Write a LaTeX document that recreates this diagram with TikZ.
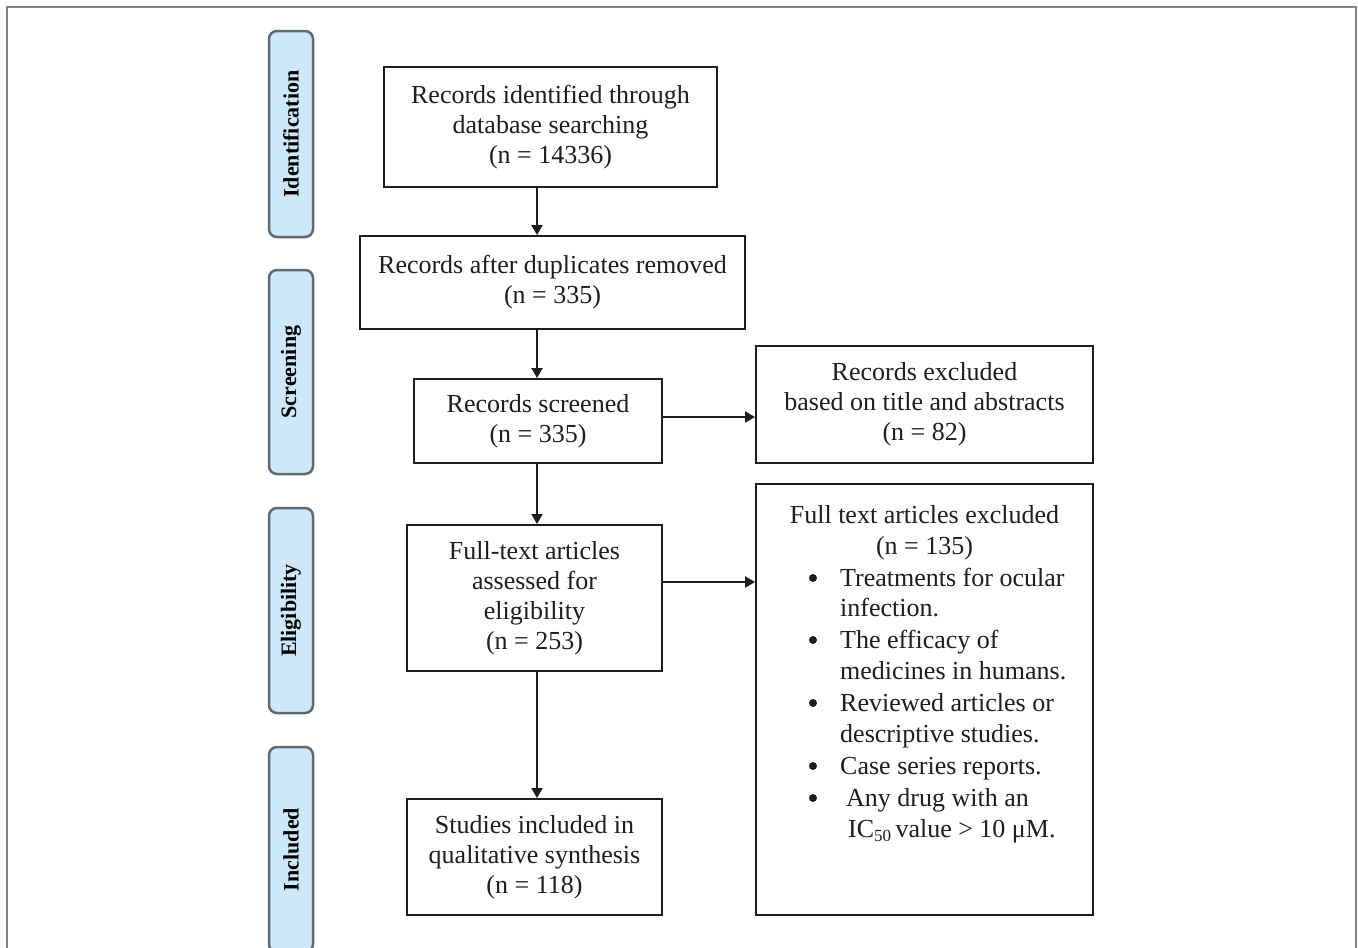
\documentclass[tikz,border=0pt]{standalone}
\usepackage{fontspec}
\setmainfont{Liberation Serif}
\usetikzlibrary{arrows.meta}
\definecolor{txt}{RGB}{30,30,30}
\definecolor{labfill}{RGB}{205,232,250}
\definecolor{labdraw}{RGB}{95,105,115}
\definecolor{framecol}{RGB}{130,130,130}
\begin{document}
\begin{tikzpicture}[x=1pt,y=-1pt,
  box/.style={draw=txt, line width=1.9pt, inner sep=0pt, align=center, text=txt,
    font=\fontsize{26}{30}\selectfont},
  stage/.style={draw=labdraw, fill=labfill, line width=2.5pt, rounded corners=8pt,
    rotate=90, minimum width=205pt, minimum height=44pt, inner sep=0pt, text=black,
    font=\fontsize{22}{22}\selectfont\bfseries},
  arr/.style={draw=txt, line width=1.9pt, -{Triangle[length=10pt,width=11pt]}},
  ln/.style={anchor=base west, inner sep=0pt, text=txt, font=\fontsize{26}{30}\selectfont},
  lc/.style={anchor=base, inner sep=0pt, text=txt, font=\fontsize{26}{30}\selectfont},
  bul/.style={circle, fill=txt, inner sep=0pt, minimum size=8pt}
]
\clip (0,0) rectangle (1358,948);
\fill[white] (0,0) rectangle (1358,948);
\draw[framecol, line width=2pt] (7,7) rectangle (1356,990);

% stage labels
\node[stage, minimum width=206pt] (s1) at (291,134) {Identification};
\node[stage, minimum width=204pt] (s2) at (291,372) {Screening};
\node[stage, minimum width=205pt] (s3) at (291,610.5) {Eligibility};
\node[stage, minimum width=205pt] (s4) at (291,849.5) {Included};

% main boxes
\node[box, minimum width=333pt, minimum height=120pt] (n1) at (550.5,127)
  {Records identified through\\database searching\\(n = 14336)};
\node[box, minimum width=385pt, minimum height=93pt] (n2) at (552.5,282.5)
  {Records after duplicates removed\\(n = 335)};
\node[box, minimum width=248pt, minimum height=84pt] (n3) at (538,421)
  {Records screened\\(n = 335)};
\node[box, minimum width=337pt, minimum height=117pt] (n4) at (924.5,404.5)
  {Records excluded\\based on title and abstracts\\(n = 82)};
\node[box, minimum width=255pt, minimum height=146pt] (n5) at (534.5,598)
  {Full-text articles\\assessed for\\eligibility\\(n = 253)};
\node[box, minimum width=337pt, minimum height=431pt] (n6) at (924.5,699.5) {};
\node[box, minimum width=255pt, minimum height=116pt] (n7) at (534.5,857)
  {Studies included in\\qualitative synthesis\\(n = 118)};

% text of the exclusion box
\node[lc] (h1) at (924.5,523) {Full text articles excluded};
\node[lc] (h2) at (924.5,554) {(n = 135)};
\node[bul] (b1) at (813,578) {};
\node[ln] (t1) at (840,586) {Treatments for ocular};
\node[ln] (t2) at (840,616) {infection.};
\node[bul] (b2) at (813,640) {};
\node[ln] (t3) at (840,648) {The efficacy of};
\node[ln] (t4) at (840,679) {medicines in humans.};
\node[bul] (b3) at (813,703) {};
\node[ln] (t5) at (840,711) {Reviewed articles or};
\node[ln] (t6) at (840,742) {descriptive studies.};
\node[bul] (b4) at (813,766) {};
\node[ln] (t7) at (840,774) {Case series reports.};
\node[bul] (b5) at (813,798) {};
\node[ln] (t8) at (846,806) {Any drug with an};
\node[ln] (t9) at (848,837) {IC{\fontsize{17}{17}\selectfont\raisebox{-4pt}{50}}\,value > 10 μM.};

% connectors
\coordinate (ax) at (537,0);
\draw[arr] (n1.south -| ax) -- (n2.north -| ax);
\draw[arr] (n2.south -| ax) -- (n3.north -| ax);
\draw[arr] (n3.south -| ax) -- (n5.north -| ax);
\draw[arr] (n5.south -| ax) -- (n7.north -| ax);
\draw[arr] ([yshift=4pt]n3.east) -- ([yshift=4pt]n3.east -| n4.west);
\draw[arr] ([yshift=16pt]n5.east) -- ([yshift=16pt]n5.east -| n6.west);
\end{tikzpicture}
\end{document}
